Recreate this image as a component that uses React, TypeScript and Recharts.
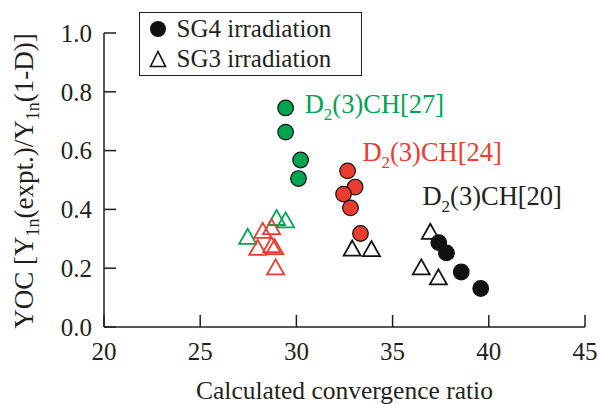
import { ScatterChart, Scatter, XAxis, YAxis, Legend, ReferenceDot } from 'recharts';

const FONT = 'Times, "Times New Roman", "Liberation Serif", "DejaVu Serif", serif';
const GREEN = '#00a551';
const RED = '#ec3b2f';
const INK = '#231f20';

const xTicks = [20, 25, 30, 35, 40, 45];
const yTicks = [0, 0.2, 0.4, 0.6, 0.8, 1.0];

// SG4 irradiation (filled circles)
const sg4Ch27 = [
  { x: 29.44, y: 0.745 },
  { x: 29.44, y: 0.663 },
  { x: 30.22, y: 0.568 },
  { x: 30.11, y: 0.505 },
];
const sg4Ch24 = [
  { x: 32.66, y: 0.531 },
  { x: 33.05, y: 0.476 },
  { x: 32.45, y: 0.452 },
  { x: 32.81, y: 0.405 },
  { x: 33.33, y: 0.318 },
];
const sg4Ch20 = [
  { x: 37.4, y: 0.287 },
  { x: 37.8, y: 0.252 },
  { x: 38.57, y: 0.187 },
  { x: 39.58, y: 0.131 },
];

// SG3 irradiation (open triangles)
const sg3Ch27 = [
  { x: 27.47, y: 0.3 },
  { x: 28.97, y: 0.364 },
  { x: 29.44, y: 0.356 },
];
const sg3Ch24 = [
  { x: 28.25, y: 0.32 },
  { x: 28.71, y: 0.333 },
  { x: 27.99, y: 0.262 },
  { x: 28.71, y: 0.272 },
  { x: 28.87, y: 0.265 },
  { x: 28.92, y: 0.196 },
];
const sg3Ch20 = [
  { x: 32.9, y: 0.26 },
  { x: 33.9, y: 0.258 },
  { x: 36.96, y: 0.317 },
  { x: 36.49, y: 0.196 },
  { x: 37.38, y: 0.162 },
];

const annotations = [
  { x: 30.43, y: 0.728, tag: '[27]', color: GREEN },
  { x: 33.43, y: 0.565, tag: '[24]', color: RED },
  { x: 36.55, y: 0.415, tag: '[20]', color: INK },
];

const legendItems = [
  { label: 'SG4 irradiation', shape: 'circle' },
  { label: 'SG3 irradiation', shape: 'triangle' },
];

const circleShape = (fill: string) => (props: any) => (
  <circle cx={props.cx} cy={props.cy} r={7.8} fill={fill} stroke="#111" strokeWidth={1.2} />
);

const triangleShape = (stroke: string) => (props: any) => {
  const { cx, cy } = props;
  return (
    <polygon
      points={`${cx},${cy - 10} ${cx - 8.5},${cy + 5} ${cx + 8.5},${cy + 5}`}
      fill="none"
      stroke={stroke}
      strokeWidth={1.8}
      strokeLinejoin="miter"
    />
  );
};

function LegendBox() {
  return (
    <div
      style={{
        boxSizing: 'border-box',
        width: 223,
        height: 64,
        background: '#fff',
        border: `1.5px solid ${INK}`,
        padding: '1px 0 0 8.5px',
        fontFamily: FONT,
        fontSize: 25,
        color: INK,
        lineHeight: '30px',
      }}
    >
      {legendItems.map((it) => (
        <div key={it.label} style={{ display: 'flex', alignItems: 'center', height: 30 }}>
          <svg width={18} height={18} style={{ marginRight: 10 }}>
            {it.shape === 'circle' ? (
              <circle cx={9} cy={9} r={8} fill="#111" />
            ) : (
              <polygon points="9,1.5 1.5,16.5 16.5,16.5" fill="none" stroke="#111" strokeWidth={1.6} />
            )}
          </svg>
          <span>{it.label}</span>
        </div>
      ))}
    </div>
  );
}

const annoLabel = (tag: string, color: string) => (p: any) => {
  const vb = p.viewBox;
  return (
    <text x={vb.x} y={vb.y} fill={color} style={{ fontFamily: FONT }} fontSize={26.5}>
      D
      <tspan dy={7} fontSize={17}>2</tspan>
      <tspan dy={-7}>(3)CH{tag}</tspan>
    </text>
  );
};

const yLabel = (p: any) => {
  const vb = p.viewBox;
  const cy = vb.y + vb.height / 2 + 1;
  return (
    <text
      x={33}
      y={cy}
      transform={`rotate(-90, 33, ${cy})`}
      textAnchor="middle"
      fill={INK}
      style={{ fontFamily: FONT }}
      fontSize={27}
    >
      YOC [Y
      <tspan dy={6} fontSize={18}>1n</tspan>
      <tspan dy={-6}>(expt.)/Y</tspan>
      <tspan dy={6} fontSize={18}>1n</tspan>
      <tspan dy={-6}>(1-D)]</tspan>
    </text>
  );
};

const xLabel = (p: any) => {
  const vb = p.viewBox;
  return (
    <text x={vb.x + vb.width / 2} y={vb.y + 72} textAnchor="middle" fill={INK} style={{ fontFamily: FONT }} fontSize={25.5}>
      Calculated convergence ratio
    </text>
  );
};

const tickStyle = { fill: INK, fontSize: 25, style: { fontFamily: FONT } };
const axisStroke = { stroke: INK, strokeWidth: 1.5 };

export default function App() {
  return (
    <div style={{ position: 'absolute', left: 0, top: 0, background: '#fff', fontFamily: FONT }}>
      <ScatterChart width={600} height={404} margin={{ top: 33, right: 15, left: 44, bottom: 37 }} style={{ fontFamily: FONT }}>
        <XAxis
          type="number"
          dataKey="x"
          domain={[20, 45]}
          ticks={xTicks}
          interval={0}
          height={40}
          tickSize={-12}
          tickMargin={27}
          tick={tickStyle}
          axisLine={axisStroke}
          tickLine={axisStroke}
          label={{ content: xLabel }}
        />
        <XAxis
          xAxisId="top"
          orientation="top"
          type="number"
          domain={[20, 45]}
          ticks={xTicks}
          interval={0}
          height={0}
          tickSize={-12}
          tick={false}
          axisLine={axisStroke}
          tickLine={axisStroke}
        />
        <YAxis
          type="number"
          dataKey="y"
          domain={[0, 1]}
          ticks={yTicks}
          interval={0}
          width={60}
          tickSize={-12}
          tickMargin={24}
          tick={tickStyle}
          tickFormatter={(v: number) => v.toFixed(1)}
          axisLine={axisStroke}
          tickLine={axisStroke}
          label={{ content: yLabel }}
        />
        <YAxis
          yAxisId="right"
          orientation="right"
          type="number"
          domain={[0, 1]}
          ticks={yTicks}
          interval={0}
          width={0}
          tickSize={-12}
          tick={false}
          axisLine={axisStroke}
          tickLine={axisStroke}
        />
        <Legend
          layout="vertical"
          align="center"
          verticalAlign="middle"
          content={() => <LegendBox />}
          wrapperStyle={{ left: 139, top: 12, width: 'auto' }}
        />
        <Scatter data={sg3Ch27} shape={triangleShape(GREEN)} isAnimationActive={false} />
        <Scatter data={sg3Ch24} shape={triangleShape(RED)} isAnimationActive={false} />
        <Scatter data={sg3Ch20} shape={triangleShape('#111')} isAnimationActive={false} />
        <Scatter data={sg4Ch27} shape={circleShape(GREEN)} isAnimationActive={false} />
        <Scatter data={sg4Ch24} shape={circleShape(RED)} isAnimationActive={false} />
        <Scatter data={sg4Ch20} shape={circleShape('#111')} isAnimationActive={false} />
        {annotations.map((a) => (
          <ReferenceDot
            key={a.tag}
            x={a.x}
            y={a.y}
            r={0}
            fill="none"
            stroke="none"
            ifOverflow="visible"
            label={{ content: annoLabel(a.tag, a.color) }}
          />
        ))}
      </ScatterChart>
    </div>
  );
}
